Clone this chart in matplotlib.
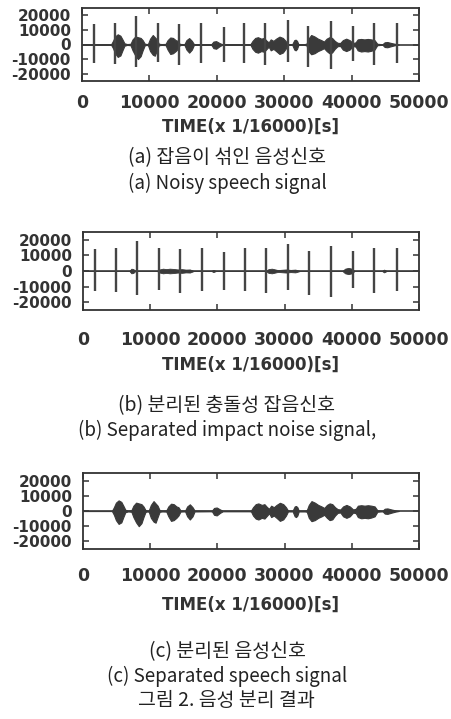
import matplotlib
matplotlib.use("Agg")
import matplotlib.pyplot as plt

W, H = 451, 719

# impulse noise: sample position and upper / lower peak
impulse_t = [1800, 4900, 8000, 11300, 14400, 17700, 21000, 24100,
             27200, 30500, 33600, 36900, 40200, 43300, 46700]
impulse_hi = [14000, 15000, 19500, 15000, 14000, 15000, 12000, 15000,
              15000, 17000, 13000, 16000, 13000, 15000, 15000]
impulse_lo = [-13000, -13500, -15500, -12000, -14000, -13000, -12000, -13000,
              -14000, -12000, -15500, -16500, -11000, -14000, -13000]

# speech envelope (samples, upper, lower)
speech_t = [0, 4300, 4600, 4900, 5300, 5700, 6000, 6300, 6700,
            7200, 7500, 7900, 8300, 8700, 9000, 9300, 9600,
            9800, 10100, 10500, 10800, 11100, 11400, 11800,
            12400, 12700, 13100, 13500, 13900, 14200, 14500, 14900,
            15200, 15500, 15900, 16300, 16600, 18900,
            19200, 19500, 19900, 20400, 20800, 24700,
            25000, 25300, 25700, 26100, 26600, 27000, 27400, 27700,
            28000, 28400, 28800, 29300, 29800, 30200, 30500, 30900,
            31200, 31500, 31700, 31900, 32100, 33000,
            33300, 33600, 34000, 34500, 35000, 35500, 35900, 36300,
            36700, 37100, 37500, 37900, 38300, 38700, 39200, 39700,
            40200, 40600, 40900, 41400, 41900, 42400, 42900, 43400,
            43800, 44300, 44600, 44900, 45300, 45900, 46500, 47000]
speech_hi = [0, 0, 2500, 5500, 7000, 6000, 3500, 800, 300,
             500, 3500, 5500, 5000, 4500, 3000, 600, 300,
             500, 4000, 6500, 5000, 3500, 500, 300,
             400, 3000, 4800, 4500, 3000, 2500, 400, 300,
             300, 3000, 4400, 2500, 300, 200,
             300, 2000, 2300, 1000, 200, 200,
             300, 2500, 4500, 5000, 4000, 4500, 2500, 1500,
             3500, 2500, 4000, 5400, 4500, 2500, 300, 300,
             300, 3000, 3300, 2500, 300, 300,
             500, 4000, 6500, 5500, 4000, 3000, 2000, 4000,
             5000, 4500, 2500, 1200, 1000, 3000, 4000, 3000,
             1000, 1500, 3500, 3800, 3500, 3800, 3500, 3000,
             500, 300, 300, 1500, 1700, 1000, 400, 0]
speech_lo = [0, 0, -2500, -6000, -8500, -7500, -4000, -800, -300,
             -500, -4000, -7500, -10000, -8000, -4000, -600, -300,
             -600, -4500, -7000, -7700, -4000, -500, -300,
             -400, -3500, -6500, -6000, -4500, -3000, -400, -300,
             -300, -3500, -5600, -3500, -300, -200,
             -300, -2500, -2900, -1200, -200, -200,
             -300, -3000, -5000, -5600, -4500, -5000, -3000, -1500,
             -4000, -3000, -4500, -6500, -5500, -3000, -300, -300,
             -300, -3500, -4000, -3000, -300, -300,
             -500, -4500, -6700, -6000, -4500, -3500, -2500, -4500,
             -6000, -5500, -3000, -1200, -1000, -3500, -4500, -3500,
             -1000, -1500, -4000, -4800, -4500, -4800, -4300, -3500,
             -500, -300, -300, -1700, -1900, -1100, -400, 0]

# speech left over in the separated impact noise
resid_t = [0, 6900, 7200, 7500, 7800, 11000, 11400, 11900, 12400, 12900,
           13500, 14100, 14700, 15300, 15900, 16500, 19100, 19400, 19800,
           27200, 27600, 28100, 28600, 29000, 29600, 30200, 30900, 31600,
           32300, 38600, 39000, 39500, 40000, 40400, 44500, 44800, 45200,
           50000]
resid_hi = [0, 0, 1500, 1200, 0, 0, 1000, 1500, 1200, 1500,
            1300, 1000, 1200, 900, 1000, 0, 0, 700, 0,
            0, 1200, 1500, 1000, 600, 800, 1000, 700, 900,
            0, 0, 1500, 2000, 1500, 0, 0, 900, 0,
            0]
resid_lo = [-v for v in resid_hi]

x_ticks = [0, 10000, 20000, 30000, 40000, 50000]
y_ticks = [20000, 10000, 0, -10000, -20000]
x_label = "TIME(x 1/16000)[s]"

captions = [
    ("(a) 잡음이 섞인 음성신호", "(a) Noisy speech signal"),
    ("(b) 분리된 충돌성 잡음신호", "(b) Separated impact noise signal,"),
    ("(c) 분리된 음성신호", "(c) Separated speech signal"),
]
fig_title = "그림 2. 음성 분리 결과"

ink = "#333333"
wave = "#3a3a3a"
axis_font = "DejaVu Sans"
cap_font = ["Noto Sans CJK KR", "DejaVu Sans"]

fig = plt.figure(figsize=(W / 100, H / 100), dpi=100)


def px_axes(left, top, right, bottom):
    return fig.add_axes([left / W, 1 - bottom / H, (right - left) / W, (bottom - top) / H])


def fig_text(x, y, s, **kw):
    fig.text(x / W, 1 - y / H, s, ha="center", va="center", **kw)


def draw_panel(ax, speech, impulses, resid, tick_pad, label_y):
    ax.set_xlim(0, 50000)
    ax.set_ylim(-25000, 25000)
    ax.axhline(0, color=wave, lw=1.2, zorder=2)
    if speech:
        ax.fill_between(speech_t, speech_lo, speech_hi, color=wave, lw=0.8,
                        edgecolor=wave, zorder=3)
    if resid:
        ax.fill_between(resid_t, resid_lo, resid_hi, color=wave, lw=0.6,
                        edgecolor=wave, zorder=3)
    if impulses:
        ax.vlines(impulse_t, impulse_lo, impulse_hi, color="#454545", lw=1.7, zorder=4)

    ax.set_xticks(x_ticks)
    ax.set_xticklabels([str(v) for v in x_ticks], fontsize=12.5, family=axis_font,
                       fontweight="bold", color=ink)
    ax.set_yticks(y_ticks)
    ax.set_yticklabels([str(v) for v in y_ticks], fontsize=11, family=axis_font,
                       fontweight="bold", color=ink)
    ax.tick_params(axis="both", direction="in", length=4, width=1.1, color=ink,
                   top=True, right=True)
    ax.tick_params(axis="x", pad=tick_pad)
    ax.tick_params(axis="y", pad=8)
    for sp in ax.spines.values():
        sp.set_color(ink)
        sp.set_linewidth(1.3)
    ax.set_xlabel(x_label, fontsize=12, family=axis_font, fontweight="bold",
                  color=ink, va="center")
    ax.xaxis.set_label_coords(0.5, label_y)


ax_a = px_axes(82, 8, 419, 81)
draw_panel(ax_a, True, True, False, 9, -0.63)
ax_b = px_axes(83, 232, 419, 310)
draw_panel(ax_b, False, True, True, 15, -0.705)
ax_c = px_axes(83, 473, 419, 549)
draw_panel(ax_c, True, False, False, 13, -0.737)

rows = [(158, 183), (406, 430), (652, 676)]
for (ko, en), (y_ko, y_en) in zip(captions, rows):
    fig_text(227, y_ko, ko, fontsize=14, family=cap_font, color="#222222")
    fig_text(227, y_en, en, fontsize=13.5, family=cap_font, color="#222222")
fig_text(226, 700, fig_title, fontsize=14, family=cap_font, color="#222222")

fig.savefig("out.png", dpi=100, facecolor="white")
